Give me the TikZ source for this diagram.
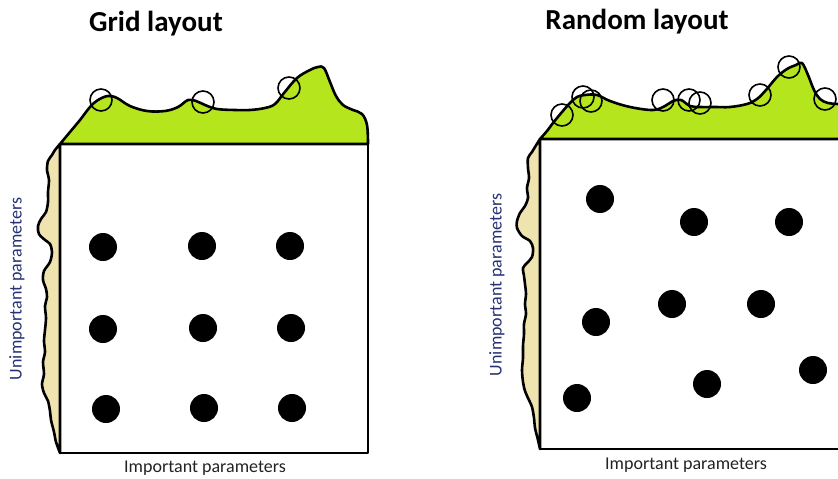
\documentclass[tikz,border=0pt]{standalone}
\usepackage{fontspec}
\setmainfont{Carlito}
\definecolor{hillgreen}{HTML}{B5E61D}
\definecolor{sidetan}{HTML}{EFE4B0}
\definecolor{labelcol}{HTML}{222222}
\definecolor{sidelabelcol}{HTML}{263273}

\begin{document}
\begin{tikzpicture}[x=1pt,y=-1pt,
  outline/.style={line width=2.6pt, line join=round, line cap=round},
  sample/.style={circle, draw, line width=1.6pt, minimum size=22pt, inner sep=0pt},
  point/.style={circle, fill=black, minimum size=28pt, inner sep=0pt},
  title/.style={font=\fontsize{29}{34}\selectfont\bfseries, anchor=base},
  axislabel/.style={font=\fontsize{18}{22}\selectfont, text=labelcol},
  sidelabel/.style={axislabel, text=sidelabelcol, rotate=90}]
\useasboundingbox (0,0) rectangle (838,479);
\clip (0,0) rectangle (838,479);

% ---------- titles ----------
\node[title] (gridtitle) at (156,31) {Grid layout};
\node[title] (randtitle) at (637,29) {Random layout};

% ---------- grid layout: marginal densities ----------
\filldraw[fill=hillgreen, outline] plot[smooth, tension=0.6] coordinates {
  (60,144) (70,132) (80,120) (90,107) (98,100) (108,96) (117,98) (130,106)
  (147,111) (165,111) (178,107) (188,100) (196,101) (205,105) (217,109)
  (235,110) (250,110) (265,108) (275,104) (284,93) (297,78) (310,70)
  (318,67) (324,68) (330,82) (336,96) (343,105) (353,110) (362,114)
  (367,125) (368,144)} -- cycle;
\filldraw[fill=sidetan, outline] plot[smooth, tension=0.5] coordinates {
  (60,144) (55,150) (52,155) (48,161) (47,170) (49,180) (48,192) (48,202)
  (46,212) (41,219) (38,226) (39,234) (45,240) (50,244) (52,252) (50,262)
  (44,271) (43,280) (46,289) (47,297) (45,306) (46,318) (45,330) (44,341)
  (45,352) (43,362) (44,374) (42,384) (44,393) (48,401) (50,411) (51,420)
  (54,432) (56,442) (60,453)} -- cycle;

% grid layout box
\draw[outline] (60,144) rectangle (368,453);

% samples projected on the important axis
\foreach \n/\x/\y in {a/101/100, b/203/102, c/289/88}
  \node[sample] (gs\n) at (\x,\y) {};

% grid sample points
\foreach \n/\x/\y in {a/103/247, b/202/246, c/290/246,
                      d/103/329, e/203/328, f/291/328,
                      g/106/409, h/204/408, i/292/408}
  \node[point] (gp\n) at (\x,\y) {};

\node[sidelabel] (gridy) at (17,289) {Unimportant parameters};
\node[axislabel] (gridx) at (205,468) {Important parameters};

% ---------- random layout: marginal densities ----------
\filldraw[fill=hillgreen, outline] plot[smooth, tension=0.6] coordinates {
  (540,139) (547,131) (553,123) (562,112) (570,103) (577,97) (585,95)
  (597,95) (610,101) (630,107) (653,110) (665,106) (673,101) (681,100)
  (690,106) (700,107) (715,107) (730,107) (747,104) (757,99) (766,90)
  (777,77) (787,69) (796,65) (802,63) (808,75) (814,90) (820,99)
  (828,103) (838,104) (848,104)} -- (848,139) -- cycle;
\filldraw[fill=sidetan, outline] plot[smooth, tension=0.5] coordinates {
  (540,139) (535,147) (532,152) (528,158) (528,168) (529,178) (527,188)
  (528,198) (525,206) (520,213) (517,221) (517,228) (522,236) (530,241)
  (533,248) (532,257) (527,263) (523,268) (524,276) (525,284) (526,294)
  (525,304) (526,314) (524,324) (524,334) (523,346) (523,358) (522,370)
  (523,382) (525,391) (528,398) (532,407) (534,418) (535,428) (538,440)
  (540,449)} -- cycle;

% random layout box (continues past the right edge)
\draw[outline] (848,139) -- (540,139) -- (540,449) -- (848,449);

\foreach \n/\x/\y in {a/562/115, b/583/97, c/591/101, d/663/100, e/689/100,
                      f/700/103, g/760/95, h/789/67, i/825/99}
  \node[sample] (rs\n) at (\x,\y) {};

\foreach \n/\x/\y in {a/600/199, b/694/222, c/789/222, d/672/304, e/761/304,
                      f/596/322, g/577/398, h/707/384, i/813/370}
  \node[point] (rp\n) at (\x,\y) {};

\node[sidelabel] (randy) at (497,285) {Unimportant parameters};
\node[axislabel] (randx) at (686,465) {Important parameters};
\end{tikzpicture}
\end{document}
